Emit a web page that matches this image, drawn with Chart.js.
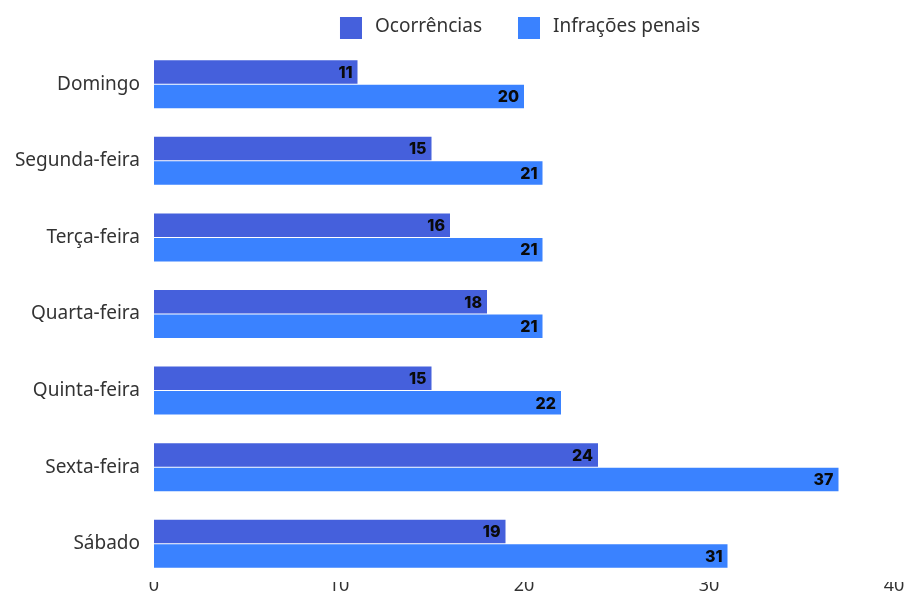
<!DOCTYPE html>
<html>
<head>
<meta charset="utf-8">
<script src="https://cdn.jsdelivr.net/npm/chart.js@4.4.1/dist/chart.umd.min.js"></script>
<style>
  html, body { margin: 0; padding: 0; background: #fff; }
  #wrap { width: 911px; height: 594px; }
</style>
</head>
<body>
<div id="wrap"><canvas id="chart"></canvas></div>
<script>
// days of the week
const dias = ["Domingo", "Segunda-feira", "Terça-feira", "Quarta-feira", "Quinta-feira", "Sexta-feira", "Sábado"];
const ocorrencias = [11, 15, 16, 18, 15, 24, 19];
const infracoes = [20, 21, 21, 21, 22, 37, 31];
const seriesNames = ["Ocorrências", "Infrações penais"];
const seriesColors = ["#4560DC", "#3A82FF"];

// value labels at the end of each bar
const valueLabels = {
  id: "valueLabels",
  afterDatasetsDraw(chart) {
    const ctx = chart.ctx;
    ctx.save();
    ctx.font = "800 16px Inter";
    ctx.fillStyle = "#0a0a0a";
    ctx.textAlign = "right";
    ctx.textBaseline = "middle";
    chart.data.datasets.forEach((ds, i) => {
      chart.getDatasetMeta(i).data.forEach((bar, j) => {
        ctx.fillText(ds.data[j], bar.x - 5, bar.y + 1);
      });
    });
    ctx.restore();
  }
};

// legend centered over the plot area
const topLegend = {
  id: "topLegend",
  afterDraw(chart) {
    const ctx = chart.ctx;
    const area = chart.chartArea;
    ctx.save();
    ctx.font = "19px 'Noto Sans'";
    ctx.textBaseline = "middle";
    const box = 22, gap = 13, spacing = 36;
    const widths = seriesNames.map(n => box + gap + ctx.measureText(n).width);
    const total = widths.reduce((a, b) => a + b, 0) + spacing;
    let x = (area.left + area.right) / 2 - total / 2 - 4;
    const y = 28;
    seriesNames.forEach((name, i) => {
      ctx.fillStyle = seriesColors[i];
      ctx.fillRect(x, y - box / 2, box, box);
      ctx.fillStyle = "#333";
      ctx.fillText(name, x + box + gap, y - 1);
      x += widths[i] + spacing;
    });
    ctx.restore();
  }
};

new Chart(document.getElementById("chart"), {
  type: "bar",
  data: {
    labels: dias,
    datasets: [
      { label: seriesNames[0], data: ocorrencias, backgroundColor: seriesColors[0] },
      { label: seriesNames[1], data: infracoes, backgroundColor: seriesColors[1] },
    ],
  },
  options: {
    indexAxis: "y",
    responsive: true,
    maintainAspectRatio: false,
    animation: false,
    categoryPercentage: 0.64,
    barPercentage: 0.96,
    layout: { padding: { top: 46, right: 17, left: 0, bottom: 0 } },
    scales: {
      x: {
        min: 0,
        max: 40,
        ticks: { stepSize: 10, color: "#333", font: { family: "Noto Sans", size: 18 }, padding: -7 },
        grid: { display: false, drawTicks: false },
        border: { display: false },
        afterFit(scale) { scale.height = 12; },
      },
      y: {
        ticks: { color: "#333", font: { family: "Noto Sans", size: 19 }, padding: 14 },
        grid: { display: false, drawTicks: false },
        border: { display: false },
        afterFit(scale) {
          scale.width = 154;
          // don't let label padding shrink the plot area
          scale.paddingTop = 0;
          scale.paddingBottom = 0;
        },
      },
    },
    plugins: {
      legend: { display: false },
      tooltip: { enabled: false },
    },
  },
  plugins: [valueLabels, topLegend],
});
</script>
</body>
</html>
